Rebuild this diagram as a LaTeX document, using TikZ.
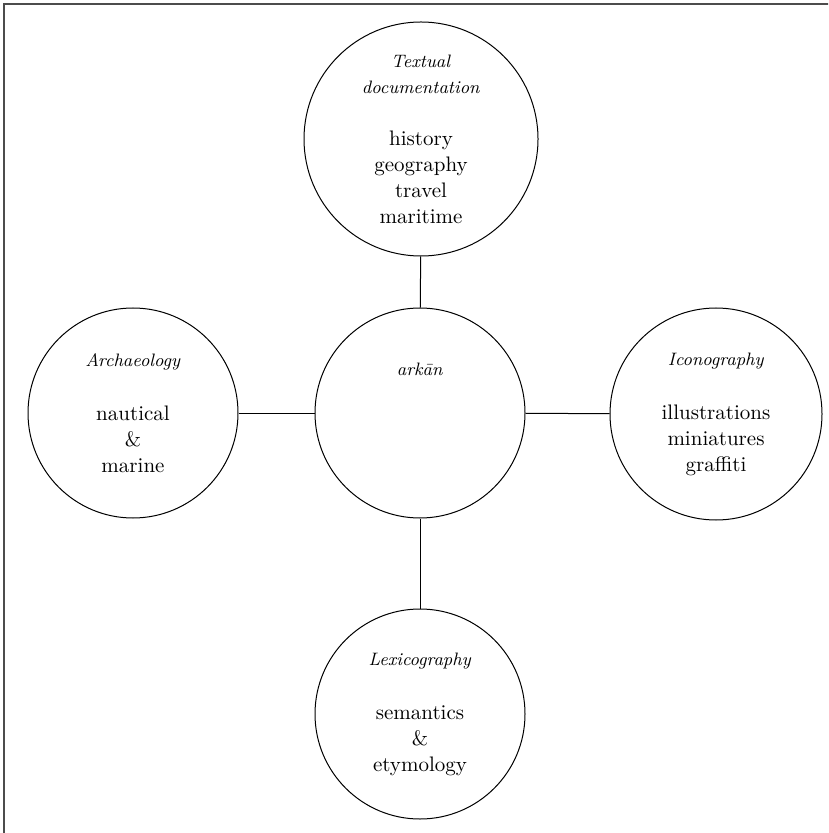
\documentclass[tikz,border=0pt]{standalone}
\usepackage{tikz}
\usetikzlibrary{positioning}

\begin{document}
\begin{tikzpicture}[x=0.5pt, y=-0.5pt, font={\fontsize{10.5}{13}\selectfont},
  src/.style={draw, circle, line width=0.5pt, align=center, minimum size=105pt, inner sep=0pt},
  ln/.style={line width=0.5pt}]
\useasboundingbox (0,0) rectangle (828,833);
\clip (0,0) rectangle (828,833);
% outer frame, runs off the page right and below
\draw[line width=0.8pt, black!70] (4,4) rectangle (850,850);

\node[src] (core) at (420,413) {\textit{\small ark\=an}\\[31pt]\mbox{}};
\node[src, minimum size=117pt] (text) at (421,139)
  {\textit{\small Textual}\\ \textit{\small documentation}\\[13pt] history\\ geography\\ travel\\ maritime};
\node[src] (arch) at (133,413) {\textit{\small Archaeology}\\[14pt] nautical\\ \&\\ marine};
\node[src, minimum size=106pt] (icon) at (716,414) {\textit{\small Iconography}\\[14pt] illustrations\\ miniatures\\ graffiti};
\node[src] (lex) at (420,714) {\textit{\small Lexicography}\\[14pt] semantics\\ \&\\ etymology};

\draw[ln] (text) -- (core);
\draw[ln] (arch) -- (core);
\draw[ln] (icon) -- (core);
\draw[ln] (lex) -- (core);
\end{tikzpicture}
\end{document}
